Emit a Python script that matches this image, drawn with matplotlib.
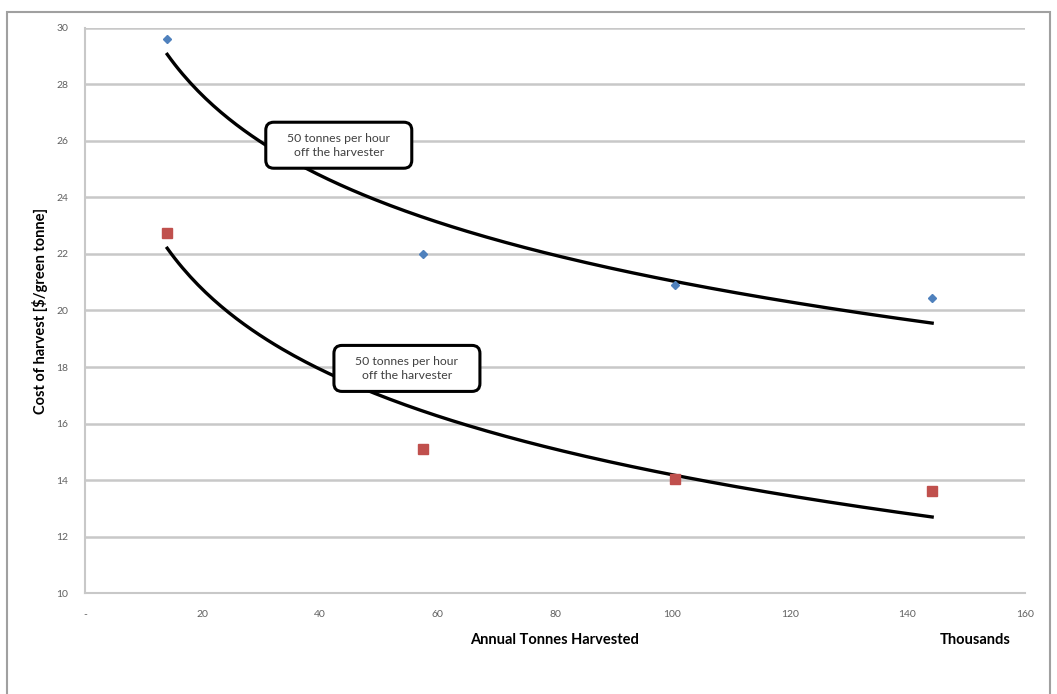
import numpy as np
import matplotlib
matplotlib.use("Agg")
import matplotlib.pyplot as plt
from matplotlib.patches import Rectangle, FancyBboxPatch
from matplotlib.transforms import IdentityTransform

# data (thousand tonnes, $/green tonne)
tonnes = [14.0, 57.5, 100.5, 144.2]
cost_a = [29.6, 22.0, 20.9, 20.45]
cost_b = [22.75, 15.1, 14.05, 13.6]
box_text = "50 tonnes per hour\noff the harvester"
xticks = [0, 20, 40, 60, 80, 100, 120, 140, 160]
yticks = [10, 12, 14, 16, 18, 20, 22, 24, 26, 28, 30]

plt.rcParams['font.family'] = ['Lato', 'DejaVu Sans']

fig = plt.figure(figsize=(10.57, 6.94), dpi=100)
ax = fig.add_axes([0.0804, 0.1455, 0.8893, 0.8142])

# outer frame
top = 1 - 12 / 694
fig.patches.append(Rectangle((7 / 1057, -0.02), 1043 / 1057, top + 0.02,
                             transform=fig.transFigure, fill=False,
                             edgecolor='#a0a0a0', linewidth=1.5))

# log trend lines
def log_fit(x, y):
    b, a = np.polyfit(np.log(x), y, 1)
    xs = np.linspace(min(x), max(x), 200)
    return xs, a + b * np.log(xs)

for y in (cost_a, cost_b):
    xs, ys = log_fit(tonnes, y)
    ax.plot(xs, ys, color='black', lw=2.4, zorder=3)

ax.plot(tonnes, cost_a, 'D', color='#4F81BD', ms=4, zorder=4)
ax.plot(tonnes, cost_b, 's', color='#C0504D', ms=7, zorder=4)

ax.set_xlim(0, 160)
ax.set_ylim(10, 30)
ax.set_xticks(xticks)
ax.set_xticklabels(['-' if t == 0 else str(t) for t in xticks])
ax.set_yticks(yticks)
ax.tick_params(length=0, labelsize=7.5, colors='#606060', pad=12)
ax.grid(axis='y', color='#c8c8c8', lw=1.8)
ax.set_axisbelow(True)
for s in ('top', 'right'):
    ax.spines[s].set_visible(False)
for s in ('left', 'bottom'):
    ax.spines[s].set_color('#c8c8c8')
    ax.spines[s].set_linewidth(1.5)

ax.set_ylabel('Cost of harvest [$/green tonne]', fontsize=10.5, fontweight='bold', labelpad=6)
fig.text(555 / 1057, 1 - 640 / 694, 'Annual Tonnes Harvested', ha='center', va='center',
         fontsize=10.5, fontweight='bold')
fig.text(975 / 1057, 1 - 640 / 694, 'Thousands', ha='center', va='center',
         fontsize=10.5, fontweight='bold')

# callout boxes, sized in pixels
def callout(x, y, w=140, h=40):
    px, py = ax.transData.transform((x, y))
    box = FancyBboxPatch((px - w / 2, py - h / 2), w, h,
                         boxstyle='round,pad=3,rounding_size=8',
                         transform=IdentityTransform(), fc='white', ec='black',
                         lw=2.2, zorder=5)
    fig.patches.append(box)
    fig.text(px / 1057, py / 694, box_text, ha='center', va='center', fontsize=8.8,
             linespacing=1.35, color='#404040', zorder=6)

callout(43.2, 25.85)
callout(54.8, 17.95)

fig.savefig('out.png', dpi=100)
